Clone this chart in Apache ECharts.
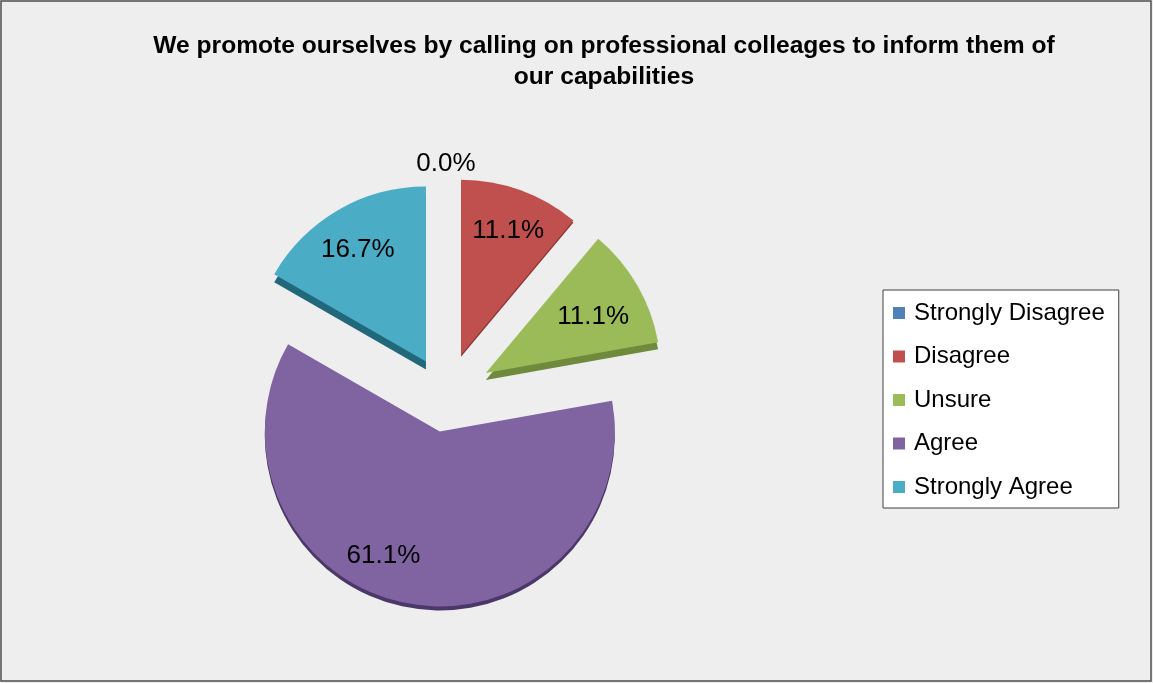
<!DOCTYPE html>
<html>
<head>
<meta charset="utf-8">
<script src="https://cdn.jsdelivr.net/npm/echarts@6/dist/echarts.min.js"></script>
<style>
  html, body { margin: 0; padding: 0; background: #eeeeee; }
  #chart { width: 1153px; height: 683px; }
</style>
</head>
<body>
<div id="chart"></div>
<script>
// Survey answers and their share of respondents (%)
const categories = ['Strongly Disagree', 'Disagree', 'Unsure', 'Agree', 'Strongly Agree'];
const shares = [0.0, 11.1, 11.1, 61.1, 16.7];

// Slice fill and the darker tone used for the slice's side wall
const colors = ['#4f81bd', '#c0504d', '#9bbb59', '#8064a2', '#4bacc6'];
const sideColors = ['#2c4d73', '#8a3634', '#6f8a3c', '#4b3868', '#21687a'];

// Pie geometry (px)
const CX = 446, CY = 396, R = 175;
const explode = [0, 44, 46, 36, 40];        // how far each slice is pulled out
const depth = [0, 2, 7, 4, 8];               // visible thickness of each slice's side
const labelDist = [235, 135, 121, 128, 133]; // label distance from the slice tip
const labelTurn = [0, 0, 0, 16, 0];          // label angle tweak (deg)
const labelDrop = 6;                         // labels sit a little below their anchor
const FONT = '"Liberation Sans", Arial, sans-serif';

const total = shares.reduce((a, b) => a + b, 0);
const rad = Math.PI / 180;

// mid angle of each slice, degrees clockwise from 12 o'clock
let acc = 0;
const midAngles = shares.map(v => {
  const mid = (acc + v / 2) / total * 360;
  acc += v;
  return mid;
});

// one pie per answer, so every slice can be pulled out by its own amount
const series = categories.map((cat, i) => {
  const a = midAngles[i] * rad;
  const cx = CX + explode[i] * Math.sin(a);
  const cy = CY - explode[i] * Math.cos(a);
  const la = (midAngles[i] + labelTurn[i]) * rad;
  const off = [
    labelDist[i] * Math.sin(la) - (R / 2) * Math.sin(a),
    -(labelDist[i] * Math.cos(la) - (R / 2) * Math.cos(a)) + labelDrop
  ];
  return {
    type: 'pie',
    name: cat,
    radius: R,
    center: [cx, cy],
    startAngle: 90,
    clockwise: true,
    animation: false,
    silent: true,
    avoidLabelOverlap: false,
    labelLine: { show: false },
    emphasis: { disabled: true },
    data: categories.map((name, j) => ({
      name: name,
      value: shares[j],
      itemStyle: j === i
        ? {
            color: colors[j],
            shadowColor: sideColors[j],
            shadowOffsetY: depth[j],
            shadowBlur: 0
          }
        : { color: colors[j], opacity: 0 },
      label: j === i
        ? {
            show: true,
            position: 'inside',
            offset: off,
            formatter: shares[j].toFixed(1) + '%',
            fontFamily: FONT,
            fontSize: 26,
            color: '#000'
          }
        : { show: false }
    }))
  };
});

const chart = echarts.init(document.getElementById('chart'), null, { renderer: 'canvas' });
chart.setOption({
  backgroundColor: '#eeeeee',
  title: {
    text: 'We promote ourselves by calling on professional colleages to inform them of\nour capabilities',
    left: 604,
    top: 31,
    textAlign: 'center',
    padding: 0,
    textStyle: {
      fontFamily: FONT,
      fontSize: 24.6,
      fontWeight: 'bold',
      lineHeight: 31,
      color: '#000'
    }
  },
  legend: {
    orient: 'vertical',
    left: 883,
    top: 290,
    padding: [11, 14, 9, 10],
    backgroundColor: '#ffffff',
    borderColor: '#404040',
    borderWidth: 1,
    borderRadius: 0,
    icon: 'rect',
    itemWidth: 12,
    itemHeight: 12,
    itemGap: 19.5,
    selectedMode: false,
    textStyle: { fontFamily: FONT, fontSize: 24, lineHeight: 24, color: '#000', padding: [0, 0, 0, 4] },
    data: categories.map((name, i) => ({ name: name, itemStyle: { color: colors[i], opacity: 1 } }))
  },
  graphic: [{
    type: 'rect',
    shape: { x: 1, y: 1, width: 1150, height: 680 },
    style: { fill: 'none', stroke: '#4d4d4d', lineWidth: 1.5 },
    silent: true,
    z: 100
  }],
  series: series
});
</script>
</body>
</html>
